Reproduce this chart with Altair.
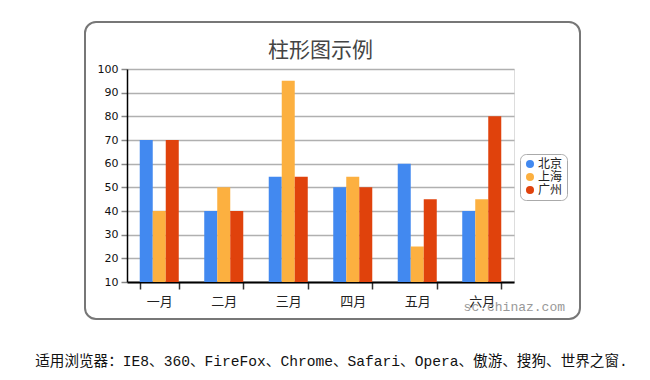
import altair as alt
import pandas as pd

months = ["一月", "二月", "三月", "四月", "五月", "六月"]
cities = ["北京", "上海", "广州"]
beijing = [70, 40, 54.5, 50, 60, 40]
shanghai = [40, 50, 95, 54.5, 25, 45]
guangzhou = [70, 40, 54.5, 50, 45, 80]
colors = ["#4289F0", "#FCB040", "#E0420C"]
title_text = "柱形图示例"
footer_text = "适用浏览器：IE8、360、FireFox、Chrome、Safari、Opera、傲游、搜狗、世界之窗."
watermark_text = "sc.chinaz.com"

rows = []
for city, vals in zip(cities, [beijing, shanghai, guangzhou]):
    for m, v in zip(months, vals):
        rows.append({"month": m, "city": city, "value": v})
df = pd.DataFrame(rows)

W, H = 387, 213

one = pd.DataFrame({"a": [0]})

frame = alt.Chart(one).mark_rect(
    fill="transparent", stroke="#777777", strokeWidth=2, cornerRadius=11
).encode(
    x=alt.value(-42), x2=alt.value(453), y=alt.value(-47), y2=alt.value(250)
)

bars = alt.Chart(df).mark_bar().encode(
    x=alt.X("month:N", sort=months,
            scale=alt.Scale(paddingInner=0.395, paddingOuter=0.1975),
            axis=alt.Axis(title=None, labelAngle=0, tickBand="extent",
                          labelFontSize=13, labelColor="#222222",
                          labelFont="Noto Sans CJK SC", labelPadding=6,
                          domainColor="#000000", domainWidth=2,
                          tickColor="#333333", tickSize=7, tickWidth=1.5)),
    xOffset=alt.XOffset("city:N", sort=cities),
    y=alt.Y("value:Q", scale=alt.Scale(domain=[10, 100], zero=False, nice=False),
            axis=alt.Axis(title=None, values=list(range(10, 101, 10)),
                          labelFontSize=11, labelColor="#111111",
                          labelFont="DejaVu Sans", labelPadding=3,
                          domainColor="#000000", domainWidth=1.5,
                          tickColor="#888888", tickSize=6, tickWidth=1.5,
                          grid=True, gridColor="#b0b0b0", gridWidth=1.5)),
    y2=alt.datum(10),
    color=alt.Color("city:N", sort=cities,
                    scale=alt.Scale(domain=cities, range=colors),
                    legend=alt.Legend(title=None, orient="none",
                                      legendX=393, legendY=85,
                                      symbolType="circle", symbolSize=65,
                                      symbolStrokeWidth=0,
                                      labelFontSize=12, labelFont="Noto Sans CJK SC",
                                      labelColor="#222222",
                                      rowPadding=1, labelOffset=2,
                                      padding=4, strokeColor="#aaaaaa",
                                      cornerRadius=6, fillColor="white")),
)

title = alt.Chart(one).mark_text(
    text=title_text, fontSize=21, font="Noto Sans CJK SC",
    color="#444444", align="center", baseline="middle"
).encode(x=alt.value(193.5), y=alt.value(-18))

footer = alt.Chart(one).mark_text(
    text=footer_text, fontSize=14.6, font="Liberation Mono, Noto Sans CJK SC",
    color="#111111", align="center", baseline="middle"
).encode(x=alt.value(204.5), y=alt.value(293))

mark = alt.Chart(one).mark_text(
    text=watermark_text, fontSize=13, font="Liberation Mono",
    color="#999999", align="right", baseline="middle"
).encode(x=alt.value(438), y=alt.value(238))

chart = alt.layer(frame, bars, title, mark, footer).properties(
    width=W, height=H,
    autosize=alt.AutoSizeParams(type="none"),
    padding={"left": 119, "top": 61, "right": 128, "bottom": 90},
).configure_view(stroke=None).configure(background="white")

chart.save("out.html", embed_options={"renderer": "svg", "actions": False})
